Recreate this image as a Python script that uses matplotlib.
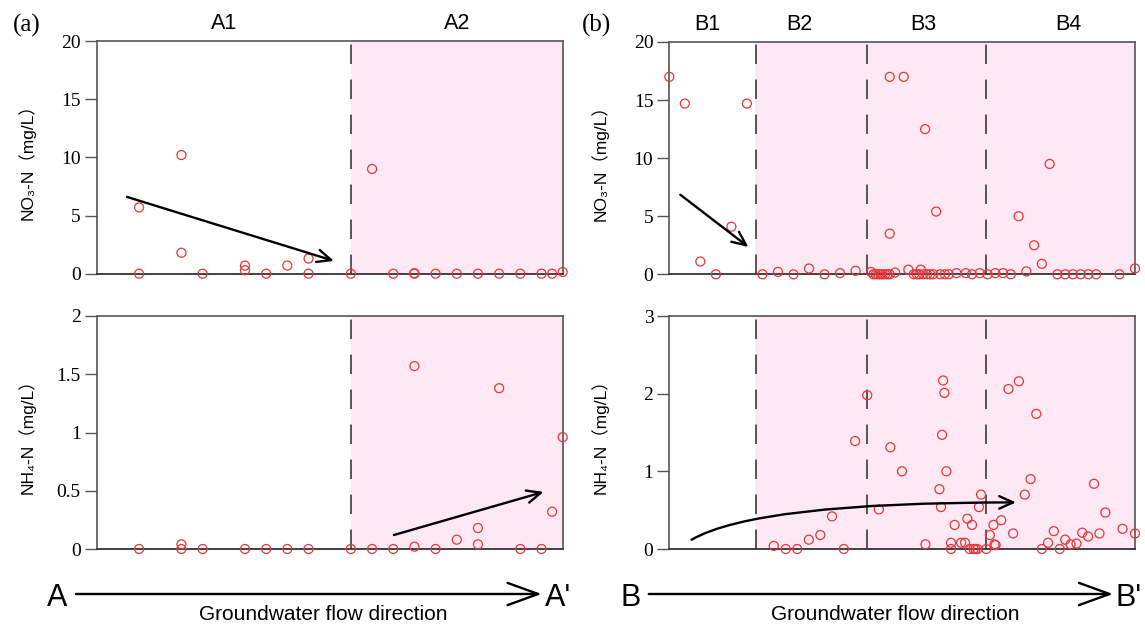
import numpy as np
import matplotlib
matplotlib.use("Agg")
import matplotlib.pyplot as plt
import matplotlib.transforms as mtransforms
from matplotlib.patches import FancyArrowPatch

# ---------------- DATA ----------------
# section A: sample position along the flow path and concentrations (mg/L)
A_NO3_X = [2, 2, 4, 4, 5, 7, 7, 8, 9, 10, 10, 12, 13, 14, 15, 15, 16, 17, 18, 19, 20, 21, 21.5, 22]
A_NO3 = [5.7, 0, 10.2, 1.8, 0, 0.7, 0.3, 0, 0.7, 1.3, 0, 0, 9.0, 0, 0, 0.05, 0, 0, 0, 0, 0, 0, 0, 0.15]

A_NH4_X = [2, 4, 4, 5, 7, 8, 9, 10, 12, 13, 14, 15, 15, 16, 17, 18, 18, 19, 20, 21, 21.5, 22]
A_NH4 = [0, 0.04, 0, 0, 0, 0, 0, 0, 0, 0, 0, 1.57, 0.02, 0, 0.08, 0.18, 0.04, 1.38, 0, 0, 0.32, 0.96]

# section B
B_NO3_X = [0, 1, 2, 3, 4, 5, 6, 7, 8, 9, 10, 11, 12, 13,
           13.15, 13.3, 13.45, 13.6, 13.75, 13.9, 14.05, 14.2, 14.2, 14.2,
           14.55, 15.1, 15.4, 15.75, 15.95, 16.1, 16.2, 16.35, 16.48, 16.6, 16.8, 17.0,
           17.19, 17.45, 17.75, 18.0, 18.5, 19.1, 19.5, 20.0, 20.5, 21.0, 21.5, 22.0,
           22.5, 23.0, 23.5, 24.0, 24.5, 25.0, 25.5, 26.0, 26.5, 27.0, 27.5, 29.0, 30.0]
B_NO3 = [17.0, 14.7, 1.1, 0, 4.1, 14.7, 0, 0.2, 0, 0.5, 0, 0.1, 0.3, 0.2,
         0, 0, 0, 0, 0, 0, 0, 0, 3.5, 17.0,
         0.15, 17.0, 0.4, 0, 0, 0, 0.4, 0, 12.5, 0, 0, 0,
         5.4, 0, 0, 0, 0.1, 0.1, 0, 0.1, 0, 0.1, 0.1, 0,
         5.0, 0.25, 2.5, 0.9, 9.5, 0, 0, 0, 0, 0, 0, 0, 0.5]

B_NH4_X = [6.73, 7.5, 8.24, 8.99, 9.73, 10.48, 11.24, 11.97, 12.75, 13.5, 14.24, 14.99,
           16.5, 17.4, 17.5, 17.57, 17.64, 17.72, 17.85, 18.15, 18.15, 18.38, 18.8, 19.05,
           19.2, 19.35, 19.5, 19.6, 19.72, 19.85, 19.95, 20.08, 20.42, 20.65, 20.88, 20.95,
           21.02, 21.38, 21.85, 22.15, 22.52, 22.9, 23.27, 23.64, 24.0, 24.4, 24.77, 25.15,
           25.5, 25.85, 26.23, 26.6, 26.98, 27.36, 27.71, 28.09, 29.2, 30.0]
B_NH4 = [0.04, 0, 0, 0.12, 0.18, 0.42, 0, 1.39, 1.98, 0.51, 1.31, 1.0,
         0.06, 0.77, 0.54, 1.47, 2.17, 2.01, 1.0, 0.08, 0, 0.31, 0.08, 0.08,
         0.39, 0, 0.31, 0, 0, 0, 0.54, 0.7, 0, 0.18, 0.31, 0.06,
         0.05, 0.37, 2.06, 0.2, 2.16, 0.7, 0.9, 1.74, 0, 0.08, 0.23, 0,
         0.12, 0.06, 0.07, 0.21, 0.16, 0.84, 0.2, 0.47, 0.26, 0.2]

A_ZONES = ["A1", "A2"]
A_ZONE_POS = [6, 17]
A_BOUNDS = [12]
B_ZONES = ["B1", "B2", "B3", "B4"]
B_ZONE_POS = [2.43, 8.4, 16.36, 25.7]
B_BOUNDS = [5.6, 12.72, 20.37]

NO3_TICKS = [0, 5, 10, 15, 20]
A_NH4_TICKS = [0, 0.5, 1, 1.5, 2]
A_NH4_TICKLABELS = ["0", "0.5", "1", "1.5", "2"]
B_NH4_TICKS = [0, 1, 2, 3]
# ----------------------------------------

SERIF = "Liberation Serif"
SANS = ["Liberation Sans", "Noto Sans CJK SC", "DejaVu Sans"]
RED = "#e8363a"
PINK = "#fde8f3"
GREY = "#555555"

W, H = 1145, 630
fig = plt.figure(figsize=(W / 100, H / 100), dpi=100)


def rect(x0, y0, x1, y1):
    return [x0 / W, 1 - y1 / H, (x1 - x0) / W, (y1 - y0) / H]


def setup_axis(ax, xmax, ymax, yticks, yticklabels, ylabel, bounds, pink_from):
    ax.set_xlim(0, xmax)
    ax.set_ylim(0, ymax)
    ax.axvspan(pink_from, xmax, color=PINK, lw=0, zorder=0)
    for b in bounds:
        ax.axvline(b, color=GREY, lw=1.4, dashes=(10, 8), zorder=1)
    for s in ["top", "right", "left"]:
        ax.spines[s].set_color(GREY)
        ax.spines[s].set_linewidth(1.2)
    ax.spines["bottom"].set_color("#333333")
    ax.spines["bottom"].set_linewidth(1.3)
    ax.set_xticks([])
    ax.set_yticks(yticks)
    ax.set_yticklabels(yticklabels, fontfamily=SERIF, fontsize=14)
    ax.tick_params(axis="y", direction="out", length=8.5, width=1.0, color=GREY, pad=3)
    ax.set_ylabel(ylabel, fontfamily=SANS, fontsize=12.5)
    ax.yaxis.set_label_coords(-0.13, 0.5)


def scatter(ax, x, y):
    ax.scatter(x, y, s=42, facecolors="none", edgecolors=RED, linewidths=0.9,
               clip_on=False, zorder=3)


def arrow(ax, p0, p1, style="arc3", hl=10, hw=4.5):
    a = FancyArrowPatch(p0, p1, transform=ax.transData, connectionstyle=style,
                        arrowstyle=f"->,head_length={hl},head_width={hw}",
                        mutation_scale=1, lw=1.7, color="black",
                        shrinkA=0, shrinkB=0, zorder=4, clip_on=False)
    ax.add_patch(a)


def zone_labels(ax, names, pos):
    tr = mtransforms.blended_transform_factory(ax.transData, ax.transAxes)
    for n, p in zip(names, pos):
        ax.text(p, 1.077, n, transform=tr, ha="center", va="center",
                fontfamily=SANS, fontsize=15.5)


NO3_LABEL = "NO₃-N（mg/L）"
NH4_LABEL = "NH₄-N（mg/L）"

# ---- panel (a) ----
ax1 = fig.add_axes(rect(96.7, 41, 562.7, 273.7))
setup_axis(ax1, 22, 20, NO3_TICKS, [str(t) for t in NO3_TICKS], NO3_LABEL, A_BOUNDS, A_BOUNDS[0])
scatter(ax1, A_NO3_X, A_NO3)
arrow(ax1, (1.43, 6.6), (11.2, 1.1))
zone_labels(ax1, A_ZONES, A_ZONE_POS)

ax2 = fig.add_axes(rect(96.7, 316, 562.7, 549))
setup_axis(ax2, 22, 2, A_NH4_TICKS, A_NH4_TICKLABELS, NH4_LABEL, A_BOUNDS, A_BOUNDS[0])
scatter(ax2, A_NH4_X, A_NH4)
arrow(ax2, (14.03, 0.12), (21.1, 0.49))

# ---- panel (b) ----
ax3 = fig.add_axes(rect(669.3, 42, 1135, 274.3))
setup_axis(ax3, 30, 20, NO3_TICKS, [str(t) for t in NO3_TICKS], NO3_LABEL, B_BOUNDS, 5.5)
scatter(ax3, B_NO3_X, B_NO3)
arrow(ax3, (0.71, 6.85), (5.1, 2.35))
zone_labels(ax3, B_ZONES, B_ZONE_POS)

ax4 = fig.add_axes(rect(669.3, 316, 1135, 549))
setup_axis(ax4, 30, 3, B_NH4_TICKS, [str(t) for t in B_NH4_TICKS], NH4_LABEL, B_BOUNDS, 5.5)
scatter(ax4, B_NH4_X, B_NH4)
arrow(ax4, (1.44, 0.12), (22.33, 0.6), style="angle3,angleA=30,angleB=0")

# panel tags
fig.text(27 / W, 1 - 25 / H, "(a)", fontfamily=SERIF, fontsize=18, ha="center", va="center")
fig.text(596.5 / W, 1 - 25 / H, "(b)", fontfamily=SERIF, fontsize=18, ha="center", va="center")


# flow direction arrows under each panel
def flow(x_start, x_tip, x_from, x_to, x_text, name):
    y = 1 - 594 / H
    a = FancyArrowPatch((x_start / W, y), (x_tip / W, y), transform=fig.transFigure,
                        arrowstyle="->,head_length=22,head_width=8", mutation_scale=1,
                        lw=1.7, color="black", shrinkA=0, shrinkB=0)
    fig.add_artist(a)
    fig.text(x_from / W, y, name, fontfamily=SANS, fontsize=22, ha="center", va="center_baseline")
    fig.text(x_to / W, y, name + "'", fontfamily=SANS, fontsize=22, ha="left", va="center_baseline")
    fig.text(x_text / W, 1 - 620 / H, "Groundwater flow direction", fontfamily=SANS,
             fontsize=15, ha="center", va="baseline")


flow(76, 541.6, 57.5, 545, 322.8, "A")
flow(648.8, 1113, 630.5, 1116, 895.7, "B")

fig.savefig("out.png", dpi=100)
